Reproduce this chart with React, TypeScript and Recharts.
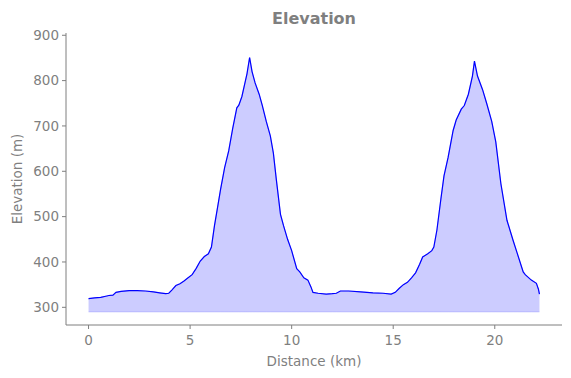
import React from "react";
import { ComposedChart, Area, Line, XAxis, YAxis } from "recharts";

const distanceKm = [
  0.0, 0.3, 0.6, 0.9, 1.0, 1.2, 1.35, 1.6, 2.0, 2.4, 2.8, 3.2, 3.5, 3.8, 3.95,
  4.1, 4.3, 4.5, 4.7, 4.9, 5.1, 5.3, 5.5, 5.7, 5.9, 6.05, 6.2, 6.35, 6.5, 6.7,
  6.9, 7.1, 7.3, 7.4, 7.55, 7.7, 7.8, 7.93, 8.05, 8.2, 8.4, 8.55, 8.75, 8.95,
  9.1, 9.25, 9.45, 9.6, 9.8, 10.0, 10.25, 10.4, 10.6, 10.8, 10.95, 11.05, 11.3,
  11.7, 12.0, 12.2, 12.4, 12.8, 13.4, 14.0, 14.5, 14.9, 15.1, 15.3, 15.5, 15.7,
  15.9, 16.1, 16.3, 16.45, 16.7, 16.9, 17.0, 17.15, 17.35, 17.5, 17.7, 17.95,
  18.1, 18.35, 18.5, 18.7, 18.9, 19.0, 19.15, 19.4, 19.6, 19.85, 20.05, 20.3,
  20.6, 20.9, 21.1, 21.4, 21.5, 21.8, 22.05, 22.15, 22.2,
];

const elevationM = [
  319, 321, 322, 325, 326, 327, 333, 335, 337, 337, 336, 334, 332, 330, 331,
  338, 348, 352, 358, 365, 372, 386, 402, 412, 418, 433, 480, 520, 560, 608,
  645, 695, 740, 746, 765, 795, 815, 851, 820, 795, 770, 746, 710, 678,
  640, 580, 505, 480, 450, 425, 385, 378, 365, 360, 345, 333, 331,
  329, 330, 331, 336, 336, 334, 332, 331, 329, 333, 342, 350, 355,
  365, 376, 395, 411, 418, 425, 433, 470, 540, 590, 630, 690,
  713, 737, 745, 770, 810, 843, 810, 780, 750, 710, 665, 573,
  492, 448, 420, 378, 372, 360, 353, 340, 329,
];

const fillBase = 290;
const xTicks = [0, 5, 10, 15, 20];
const yTicks = [300, 400, 500, 600, 700, 800, 900];

const data = distanceKm.map((d, i) => ({
  distance: d,
  elevation: elevationM[i],
  band: [fillBase, elevationM[i]],
}));

const grey = "#7f7f7f";
const font = "DejaVu Sans";

export default function App() {
  return (
    <div style={{ position: "absolute", left: 0, top: 0, width: 571, height: 378 }}>
      <div
        style={{
          position: "absolute",
          left: 66,
          width: 496,
          top: 9,
          textAlign: "center",
          fontFamily: font,
          fontWeight: "bold",
          fontSize: 16,
          color: grey,
        }}
      >
        Elevation
      </div>
      <ComposedChart
        width={571}
        height={378}
        data={data}
        margin={{ top: 33, right: 9, bottom: 23, left: 0 }}
      >
        <XAxis
          dataKey="distance"
          type="number"
          domain={[-1.11, 23.31]}
          ticks={xTicks}
          allowDataOverflow
          height={30}
          tickSize={4}
          tickMargin={6}
          stroke={grey}
          tick={{ fill: grey, fontSize: 13.5, fontFamily: font }}
          label={{
            value: "Distance (km)",
            position: "insideBottom",
            offset: -11,
            fill: grey,
            fontSize: 13.5,
            fontFamily: font,
          }}
        />
        <YAxis
          type="number"
          domain={[261, 905]}
          ticks={yTicks}
          allowDataOverflow
          width={66}
          tickSize={4}
          tickMargin={3}
          stroke={grey}
          tick={{ fill: grey, fontSize: 13.5, fontFamily: font }}
          label={{
            value: "Elevation (m)",
            angle: -90,
            position: "insideLeft",
            offset: 17,
            style: { textAnchor: "middle" },
            fill: grey,
            fontSize: 13.5,
            fontFamily: font,
          }}
        />
        <Area
          type="linear"
          dataKey="band"
          fill="#0000ff"
          fillOpacity={0.2}
          stroke="#0000ff"
          strokeOpacity={0.2}
          isAnimationActive={false}
        />
        <Line
          type="linear"
          dataKey="elevation"
          stroke="#0000ff"
          strokeWidth={1.2}
          dot={false}
          isAnimationActive={false}
        />
      </ComposedChart>
    </div>
  );
}
